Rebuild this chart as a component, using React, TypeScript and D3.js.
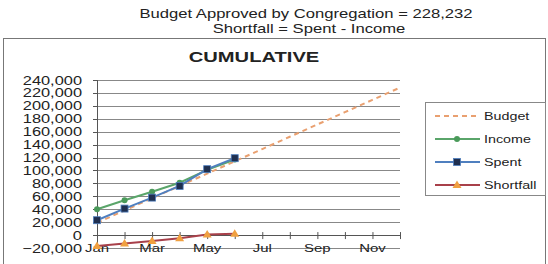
import * as d3 from "d3";

const MONTHS = ["Jan", "Feb", "Mar", "Apr", "May", "Jun", "Jul", "Aug", "Sep", "Oct", "Nov", "Dec"];
const BUDGET = [19019, 38039, 57058, 76077, 95097, 114116, 133135, 152155, 171174, 190193, 209213, 228232];
const INCOME = [40000, 54000, 67000, 81000, 101000, 117000];
const SPENT = [23000, 41000, 58000, 76000, 102000, 119000];
const SHORTFALL = [-17000, -13000, -9000, -5000, 1000, 2000];
const Y_TICKS = [-20000, 0, 20000, 40000, 60000, 80000, 100000, 120000, 140000, 160000, 180000, 200000, 220000, 240000];

const FONT = "'Liberation Sans', Arial, sans-serif";
const SX = 1.3; // the scan is stretched sideways

const T = ({ x, y, size, anchor = "start", bold = false, children }: any) => (
  <g transform={`translate(${x},${y}) scale(${SX},1)`}>
    <text fontFamily={FONT} fontSize={size} fontWeight={bold ? "bold" : "normal"} textAnchor={anchor} fill="#222">
      {children}
    </text>
  </g>
);

const SERIES = [
  { name: "Budget", data: BUDGET, stroke: "#e9a070", dash: "5,4", marker: "none", mfill: "" },
  { name: "Income", data: INCOME, stroke: "#5aa56a", dash: "", marker: "circle", mfill: "#4a9a5a" },
  { name: "Spent", data: SPENT, stroke: "#4f7fbf", dash: "", marker: "square", mfill: "#1f2f4f" },
  { name: "Shortfall", data: SHORTFALL, stroke: "#a8404a", dash: "", marker: "triangle", mfill: "#f0a040" },
];

const Marker = ({ kind, x, y, fill }: any) => {
  if (kind === "circle") return <circle cx={x} cy={y} r={3} fill={fill} />;
  if (kind === "square") return <rect x={x - 3.5} y={y - 3.5} width={7} height={7} fill={fill} stroke="#4f7fbf" strokeWidth={0.8} />;
  if (kind === "triangle") return <path d={`M${x},${y - 4.5}L${x + 4.5},${y + 3}L${x - 4.5},${y + 3}Z`} fill={fill} />;
  return null;
};

export default function App() {
  const width = 548;
  const height = 264;
  const x = d3.scalePoint<string>().domain(MONTHS).range([97, 400]);
  const y = d3.scaleLinear().domain([-20000, 240000]).range([248, 80]);
  const line = d3.line<number>().x((_, i) => x(MONTHS[i])!).y((d) => y(d));

  return (
    <svg width={width} height={height} style={{ position: "absolute", left: 0, top: 0 }}>
      <rect width={width} height={height} fill="#fff" />
      <T x={306} y={18} size={12.8} anchor="middle">Budget Approved by Congregation = 228,232</T>
      <T x={309} y={33} size={12.8} anchor="middle">Shortfall = Spent - Income</T>
      <rect x={3.5} y={38.5} width={542} height={240} fill="none" stroke="#777" strokeWidth={1} />
      <T x={254} y={62} size={15.5} anchor="middle" bold>CUMULATIVE</T>

      {/* gridlines and y labels */}
      {Y_TICKS.map((t) => (
        <g key={t}>
          <line x1={97} x2={400} y1={Math.round(y(t)) + 0.5} y2={Math.round(y(t)) + 0.5} stroke="#888" strokeWidth={1} />
          <line x1={93} x2={97} y1={Math.round(y(t)) + 0.5} y2={Math.round(y(t)) + 0.5} stroke="#555" />
          <T x={82} y={y(t) + 4.5} size={12.6} anchor="end">{d3.format(",")(t)}</T>
        </g>
      ))}
      <line x1={97.5} x2={97.5} y1={80} y2={248} stroke="#555" />

      {/* category axis at zero */}
      <line x1={97} x2={400} y1={Math.round(y(0)) + 0.5} y2={Math.round(y(0)) + 0.5} stroke="#555" />
      {MONTHS.map((m, i) => (
        <g key={m}>
          <line x1={x(m)! + 0.5} x2={x(m)! + 0.5} y1={y(0) - 3} y2={y(0) + 4} stroke="#555" />
          {i % 2 === 0 && <T x={x(m)!} y={y(0) + 17} size={11.5} anchor="middle">{m}</T>}
        </g>
      ))}

      {/* series */}
      {SERIES.map((s) => (
        <g key={s.name}>
          <path d={line(s.data)!} fill="none" stroke={s.stroke} strokeWidth={2} strokeDasharray={s.dash} />
          {s.data.map((d, i) => (
            <Marker key={i} kind={s.marker} x={x(MONTHS[i])!} y={y(d)} fill={s.mfill} />
          ))}
        </g>
      ))}

      {/* legend */}
      <rect x={425.5} y={102.5} width={120} height={93} fill="#fff" stroke="#888" />
      {SERIES.map((s, i) => {
        const ly = 116 + i * 23;
        return (
          <g key={s.name}>
            <line x1={435} x2={480} y1={ly} y2={ly} stroke={s.stroke} strokeWidth={2} strokeDasharray={s.dash} />
            <Marker kind={s.marker} x={457} y={ly} fill={s.mfill} />
            <T x={484} y={ly + 4} size={11} >{s.name}</T>
          </g>
        );
      })}
    </svg>
  );
}
